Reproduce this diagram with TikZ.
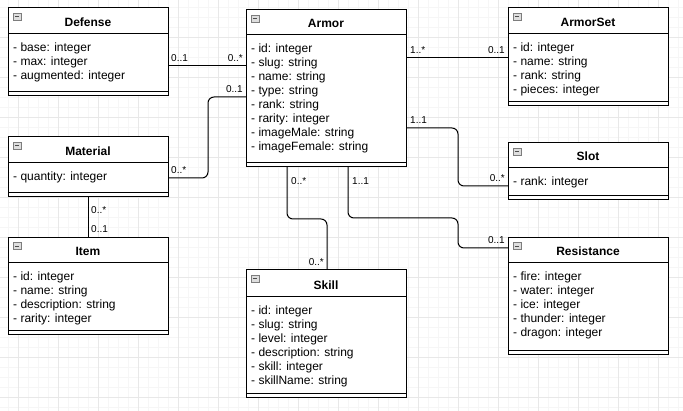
\documentclass[tikz,border=0pt]{standalone}
\usepackage{fontspec}
\setmainfont{Liberation Sans}
\usetikzlibrary{calc}
\definecolor{gridminor}{RGB}{246,246,246}
\definecolor{gridmajor}{RGB}{232,232,232}
\definecolor{iconfill}{RGB}{222,222,222}
\definecolor{iconborder}{RGB}{125,125,125}
\tikzset{
  classbox/.style={draw=black, line width=1pt, fill=white, inner sep=0pt, outer sep=0pt, minimum width=160pt, anchor=north west},
  sepline/.style={draw=black, line width=1pt},
  classtitle/.style={font=\fontsize{12}{14}\selectfont\bfseries, inner sep=0pt, anchor=base},
  attr/.style={font=\fontsize{12}{14}\selectfont, inner sep=0pt, anchor=base west},
  mult/.style={font=\fontsize{10}{12}\selectfont, inner sep=0pt},
  conn/.style={draw=black, line width=1pt, rounded corners=6pt},
  gridthin/.style={draw=gridminor, line width=1pt},
  gridthick/.style={draw=gridmajor, line width=1pt},
  collapseicon/.style={draw=iconborder, fill=iconfill, line width=0.8pt, minimum width=8pt, minimum height=7pt, inner sep=0pt,
    path picture={\draw[black!70, line width=0.9pt] ([xshift=1.8pt]path picture bounding box.west) -- ([xshift=-1.8pt]path picture bounding box.east);}},
}
\newcommand\umlclass[8]{%
  \node[classbox, minimum height={(#6-#3)*1pt}] (#1) at (#2,#3) {};
  \draw[sepline] (#2,#4) -- ++(160,0);
  \draw[sepline] (#2,#5) -- ++(160,0);
  \node[collapseicon] (#1-icon) at ({#2+9},{#3+8.5}) {};
  \node[classtitle] (#1-title) at ({#2+80},{#4-7}) {#7};
  \foreach \attrline [count=\i] in {#8} {\node[attr] (#1-a\i) at ({#2+5},{#4+18+14*(\i-1)}) {\attrline};}
}
\begin{document}
\begin{tikzpicture}[x=1pt,y=-1pt]
\useasboundingbox (0,0) rectangle (683,411);
\fill[white] (0,0) rectangle (683,411);
% grid
\foreach \gx in {8,18,...,678} \draw[gridthin] (\gx,0) -- (\gx,411);
\foreach \gy in {8,18,...,408} \draw[gridthin] (0,\gy) -- (683,\gy);
\foreach \gx in {18,58,...,658} \draw[gridthick] (\gx,0) -- (\gx,411);
\foreach \gy in {38,78,...,398} \draw[gridthick] (0,\gy) -- (683,\gy);

% classes
\umlclass{defense}{8}{8}{34}{92}{96}{Defense}{- base: integer,- max: integer,- augmented: integer}
\umlclass{armor}{246}{10}{35}{163}{167}{Armor}{- id: integer,- slug: string,- name: string,- type: string,- rank: string,- rarity: integer,- imageMale: string,- imageFemale: string}
\umlclass{armorset}{508}{8}{34}{102}{106}{ArmorSet}{- id: integer,- name: string,- rank: string,- pieces: integer}
\umlclass{slot}{508}{143}{168}{196}{200}{Slot}{- rank: integer}
\umlclass{material}{8}{137}{163}{192.5}{196.5}{Material}{- quantity: integer}
\umlclass{item}{8}{237.5}{263}{331}{335}{Item}{- id: integer,- name: string,- description: string,- rarity: integer}
\umlclass{skill}{246}{270}{296.5}{394}{398}{Skill}{- id: integer,- slug: string,- level: integer,- description: string,- skill: integer,- skillName: string}
\umlclass{resistance}{508}{237.5}{263}{351}{355}{Resistance}{- fire: integer,- water: integer,- ice: integer,- thunder: integer,- dragon: integer}

% connectors
\draw[conn] (defense.east |- 0,66) -- (armor.west |- 0,66);
\draw[conn] (material.east |- 0,178) -- (208,178) -- (208,97) -- (armor.west |- 0,97);
\draw[conn] (armor.east |- 0,58) -- (armorset.west |- 0,58);
\draw[conn] (armor.east |- 0,128) -- (458,128) -- (458,186) -- (slot.west |- 0,186);
\draw[conn] (armor.south -| 287,0) -- (287,219) -- (327,219) -- (skill.north -| 327,0);
\draw[conn] (armor.south -| 348,0) -- (348,218) -- (458,218) -- (458,248) -- (resistance.west |- 0,248);
\draw[conn] (material.south) -- (item.north);

% multiplicities
\node[mult, anchor=base west] (m1a) at (171,62) {0..1};
\node[mult, anchor=base east] (m1b) at (243,62) {0..*};
\node[mult, anchor=base west] (m2a) at (171,174) {0..*};
\node[mult, anchor=base east] (m2b) at (243,93) {0..1};
\node[mult, anchor=base west] (m3a) at (410,54) {1..*};
\node[mult, anchor=base east] (m3b) at (505,54) {0..1};
\node[mult, anchor=base west] (m4a) at (410,124) {1..1};
\node[mult, anchor=base east] (m4b) at (505,182) {0..*};
\node[mult, anchor=base west] (m5a) at (291,185) {0..*};
\node[mult, anchor=base east] (m5b) at (324,266) {0..*};
\node[mult, anchor=base west] (m6a) at (352,185) {1..1};
\node[mult, anchor=base east] (m6b) at (505,244) {0..1};
\node[mult, anchor=base west] (m7a) at (91,214) {0..*};
\node[mult, anchor=base west] (m7b) at (91,233) {0..1};
\end{tikzpicture}
\end{document}
